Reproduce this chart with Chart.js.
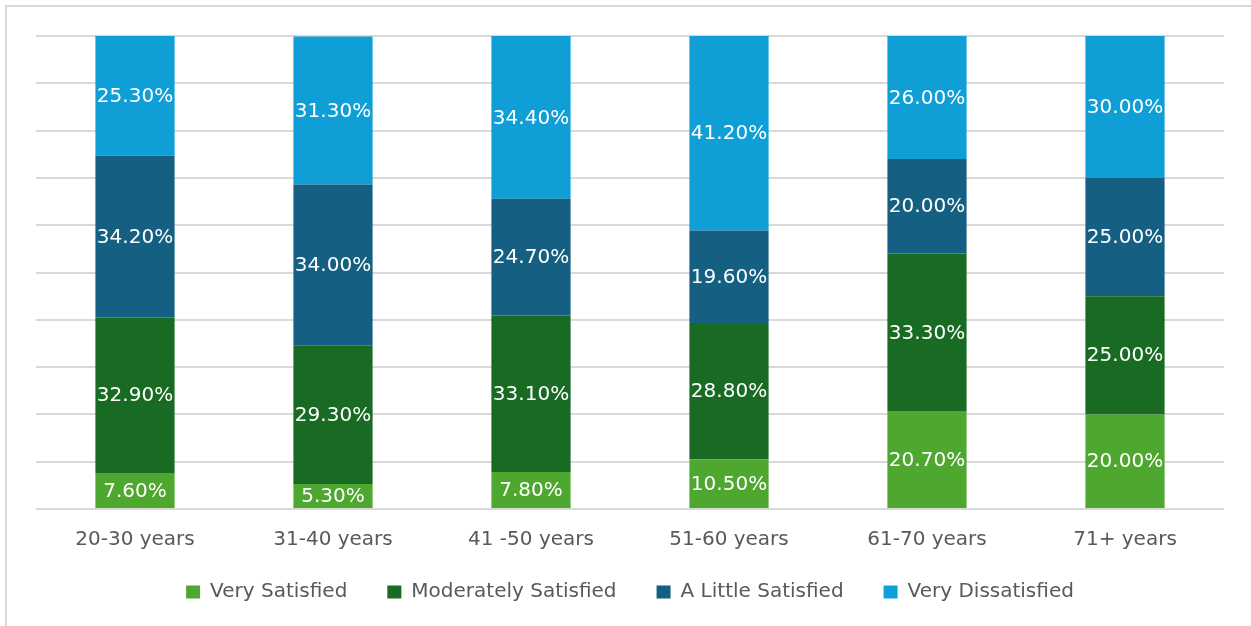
<!DOCTYPE html>
<html>
<head>
<meta charset="utf-8">
<script src="https://cdn.jsdelivr.net/npm/chart.js@4"></script>
<style>
  html, body { margin: 0; padding: 0; background: #fff; overflow: hidden; }
  #frame {
    position: absolute; left: 5px; top: 5px; width: 1260px; height: 640px;
    border: 2px solid #d9d9d9; box-sizing: border-box;
  }
  #wrap { position: absolute; left: 0; top: 0; width: 1251px; height: 626px; }
</style>
</head>
<body>
<div id="frame"></div>
<div id="wrap"><canvas id="satChart" width="1251" height="626"></canvas></div>
<script>
const ageGroups = ["20-30 years", "31-40 years", "41 -50 years", "51-60 years", "61-70 years", "71+ years"];
const verySatisfied = [7.6, 5.3, 7.8, 10.5, 20.7, 20.0];
const moderatelySatisfied = [32.9, 29.3, 33.1, 28.8, 33.3, 25.0];
const littleSatisfied = [34.2, 34.0, 24.7, 19.6, 20.0, 25.0];
const veryDissatisfied = [25.3, 31.3, 34.4, 41.2, 26.0, 30.0];

const fontFamily = "'DejaVu Sans', sans-serif";

// draws value labels in the middle of every bar segment
const segmentLabels = {
  id: "segmentLabels",
  afterDatasetsDraw(chart) {
    const ctx = chart.ctx;
    ctx.save();
    ctx.font = `20px ${fontFamily}`;
    ctx.fillStyle = "#ffffff";
    ctx.textAlign = "center";
    ctx.textBaseline = "middle";
    chart.data.datasets.forEach((ds, i) => {
      const meta = chart.getDatasetMeta(i);
      meta.data.forEach((bar, j) => {
        const y = (bar.y + bar.base) / 2 + 1;
        ctx.fillText(ds.data[j].toFixed(2) + "%", bar.x, y);
      });
    });
    ctx.restore();
  },
};

// x axis is kept short so the legend sits close, but its labels must not be clipped
const unclipXLabels = {
  id: "unclipXLabels",
  afterLayout(chart) {
    chart.scales.x.bottom += 14;
  },
};

new Chart(document.getElementById("satChart"), {
  type: "bar",
  data: {
    labels: ageGroups,
    datasets: [
      { label: "Very Satisfied", data: verySatisfied, backgroundColor: "#4ea72e" },
      { label: "Moderately Satisfied", data: moderatelySatisfied, backgroundColor: "#196b24" },
      { label: "A Little Satisfied", data: littleSatisfied, backgroundColor: "#156082" },
      { label: "Very Dissatisfied", data: veryDissatisfied, backgroundColor: "#0f9ed5" },
    ],
  },
  options: {
    responsive: false,
    animation: false,
    layout: { padding: { left: 36, right: 27, top: 36, bottom: 14 } },
    datasets: { bar: { barPercentage: 0.4, categoryPercentage: 1 } },
    scales: {
      x: {
        stacked: true,
        grid: { display: false, drawTicks: false },
        border: { display: false },
        ticks: { color: "#595959", padding: 19, font: { family: fontFamily, size: 20 } },
        afterFit: (scale) => { scale.height = 33; },
      },
      y: {
        stacked: true,
        min: 0,
        max: 100,
        ticks: { display: false, stepSize: 10 },
        grid: { color: "#d9d9d9", lineWidth: 2, drawTicks: false },
        border: { display: false },
      },
    },
    plugins: {
      tooltip: { enabled: false },
      legend: {
        position: "bottom",
        labels: {
          color: "#595959",
          boxWidth: 14,
          boxHeight: 13,
          padding: 40,
          font: { family: fontFamily, size: 20 },
        },
      },
    },
  },
  plugins: [segmentLabels, unclipXLabels],
});
</script>
</body>
</html>
